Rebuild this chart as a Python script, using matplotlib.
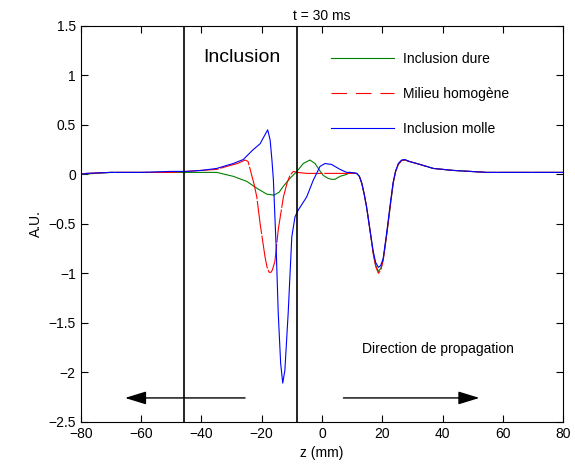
import matplotlib.pyplot as plt
from matplotlib.lines import Line2D

plt.rcParams['font.family'] = ['Liberation Sans', 'DejaVu Sans']

# Data
z_dure = [-80, -70, -60, -50, -40, -34.9, -29.4, -25.0, -21.6, -18.3, -15.9, -14.2, -12.8,
          -10.6, -8.3, -6.2, -4.0, -2.3, -0.8, 0.4, 2.0, 3.2, 4.3, 6.0, 8.2, 9.3, 11.5,
          12.4, 13.2, 14.0, 14.8, 15.9, 17.0, 17.8, 18.7, 19.5, 20.3, 21.5, 22.6, 23.6,
          24.4, 25.3, 26.4, 27.5, 29.0, 31.4, 36.9, 43.5, 54.6, 65.7, 80]
v_dure = [0.0, 0.02, 0.02, 0.02, 0.02, 0.02, -0.02, -0.07, -0.14, -0.20, -0.21, -0.18, -0.12,
          -0.04, 0.03, 0.11, 0.145, 0.11, 0.04, -0.01, -0.04, -0.05, -0.05, -0.02, 0.0, 0.02, 0.01,
          -0.02, -0.09, -0.2, -0.33, -0.56, -0.80, -0.92, -0.98, -0.95, -0.86, -0.60, -0.33, -0.09,
          0.03, 0.10, 0.14, 0.145, 0.13, 0.11, 0.06, 0.04, 0.02, 0.02, 0.02]

z_homo = [-80, -78, -70, -60, -50, -45, -40, -35, -31.6, -28, -25.5, -24.5, -23.8,
          -22.5, -21.6, -20.5, -18.9, -18.2, -17.5, -16.9, -16.5, -15.6, -14.5, -12.8, -11.5,
          -10.6, -9.5, -8.3, -5, 0, 5, 9.3, 11.5, 12.4, 13.2, 14.0, 14.8, 15.9, 17.0, 17.8,
          18.7, 19.5, 20.3, 21.5, 22.6, 23.6, 24.4, 25.3, 26.4, 27.5, 29.0, 31.4, 36.9, 43.5,
          54.6, 65.7, 80]
v_homo = [0.0, 0.01, 0.02, 0.02, 0.02, 0.03, 0.04, 0.05, 0.08, 0.11, 0.145, 0.13, 0.05,
          -0.1, -0.23, -0.5, -0.83, -0.94, -0.99, -0.99, -0.97, -0.88, -0.56, -0.23, -0.08,
          -0.01, 0.03, 0.02, 0.01, 0.01, 0.01, 0.01, 0.01, -0.02, -0.09, -0.2, -0.33, -0.56,
          -0.80, -0.93, -1.0, -0.97, -0.87, -0.60, -0.33, -0.09, 0.03, 0.10, 0.14, 0.145,
          0.13, 0.11, 0.06, 0.04, 0.02, 0.02, 0.02]

z_molle = [-80, -78, -70, -60, -50, -45, -40, -34.9, -29.4, -26.1, -22.8, -20.5, -18.9,
           -18.0, -17.2, -16.6, -16.1, -15.2, -14.5, -13.7, -13.0, -12.3, -11.2, -10.0, -8.95,
           -7.85, -5.1, -2.9, -0.65, 1.0, 3.2, 6.0, 8.2, 9.3, 11.5, 12.4, 13.2, 14.0, 14.8,
           15.9, 17.0, 17.8, 18.7, 19.5, 20.3, 21.5, 22.6, 23.6, 24.4, 25.3, 26.4, 27.5, 29.0,
           31.4, 36.9, 43.5, 54.6, 65.7, 80]
v_molle = [0.0, 0.01, 0.02, 0.02, 0.03, 0.03, 0.04, 0.06, 0.11, 0.15, 0.25, 0.31, 0.40,
           0.45, 0.35, 0.15, -0.06, -0.73, -1.40, -1.91, -2.11, -1.98, -1.40, -0.63, -0.43,
           -0.36, -0.23, -0.06, 0.08, 0.11, 0.10, 0.05, 0.02, 0.02, 0.01, -0.02, -0.09, -0.2,
           -0.33, -0.56, -0.78, -0.89, -0.94, -0.92, -0.85, -0.58, -0.31, -0.08, 0.03, 0.11,
           0.145, 0.15, 0.13, 0.11, 0.06, 0.04, 0.02, 0.02, 0.02]

labels = ['Inclusion dure', 'Milieu homogène', 'Inclusion molle']
inclusion_bounds = [-45.6, -8.3]

fig = plt.figure(figsize=(5.75, 4.69), dpi=100)
ax = fig.add_axes([0.1403, 0.1009, 0.8393, 0.8437])

ax.plot(z_dure, v_dure, color='#008000', lw=0.8)
ax.plot(z_homo, v_homo, color='red', lw=0.8, dashes=(30, 1.5))
ax.plot(z_molle, v_molle, color='blue', lw=0.8)

for zb in inclusion_bounds:
    ax.axvline(zb, color='black', lw=1.2)

# propagation arrows
arrow = dict(arrowstyle='-|>,head_length=1.3,head_width=0.4', color='black', lw=1.0,
             shrinkA=0, shrinkB=0)
ax.annotate('', xy=(-65.3, -2.26), xytext=(-25.5, -2.26), arrowprops=arrow)
ax.annotate('', xy=(52.2, -2.26), xytext=(7.1, -2.26), arrowprops=arrow)

ax.text(-26.6, 1.18, 'Inclusion', fontsize=14, ha='center', va='center')
ax.text(38.3, -1.77, 'Direction de propagation', fontsize=10, ha='center', va='center')

ax.set_xlim(-80, 80)
ax.set_ylim(-2.5, 1.5)
ax.set_xticks(range(-80, 81, 20))
ax.set_yticks([-2.5, -2, -1.5, -1, -0.5, 0, 0.5, 1, 1.5])
ax.set_yticklabels(['\u22122.5', '\u22122', '\u22121.5', '\u22121', '\u22120.5', '0', '0.5', '1', '1.5'])
ax.tick_params(direction='in', top=True, right=True, length=5, labelsize=10)
ax.set_xlabel('z (mm)', fontsize=10)
ax.set_ylabel('A.U.', fontsize=10)
ax.set_title('t = 30 ms', fontsize=10, pad=4)

handles = [Line2D([], [], color='#008000', lw=0.8),
           Line2D([], [], color='red', lw=0.8, ls=(0, (14, 8))),
           Line2D([], [], color='blue', lw=0.8)]
ax.legend(handles, labels, loc='upper left', bbox_to_anchor=(331 / 575, 1 - 52 / 469),
          bbox_transform=fig.transFigure, frameon=False, fontsize=10, handlelength=4.5,
          handletextpad=0.65, labelspacing=1.5, borderpad=0, borderaxespad=0)

fig.savefig('out.png', dpi=100)
